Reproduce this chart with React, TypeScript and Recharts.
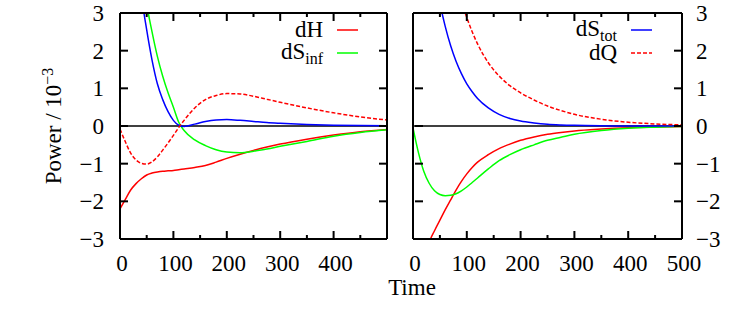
import React from 'react';
import { LineChart, Line, XAxis, YAxis, ReferenceLine, Legend } from 'recharts';

// sample times (same grid for both panels)
const time = [0, 10, 20, 30, 40, 50, 60, 70, 80, 90, 100, 110, 120, 140, 160, 180, 200, 225, 250, 275, 300, 350, 400, 450, 500];

// left panel
const leftDH = [-2.2, -1.95, -1.7, -1.53, -1.4, -1.3, -1.25, -1.22, -1.2, -1.19, -1.18, -1.16, -1.14, -1.1, -1.05, -0.96, -0.86, -0.75, -0.65, -0.56, -0.48, -0.35, -0.24, -0.15, -0.09];
const leftDSinf = [null, null, null, null, 4.4, 3.25, 2.5, 1.85, 1.32, 0.88, 0.5, 0.1, -0.12, -0.37, -0.52, -0.63, -0.69, -0.71, -0.67, -0.61, -0.54, -0.41, -0.27, -0.17, -0.1];
const leftDStot = [null, null, null, 5.0, 3.5, 2.55, 1.75, 1.12, 0.7, 0.38, 0.15, 0.02, -0.01, 0.05, 0.12, 0.16, 0.17, 0.15, 0.12, 0.09, 0.07, 0.04, 0.02, 0.01, 0.005];
const leftDQ = [-0.08, -0.42, -0.72, -0.9, -0.99, -1.01, -0.95, -0.82, -0.64, -0.45, -0.25, -0.04, 0.15, 0.48, 0.7, 0.81, 0.86, 0.85, 0.79, 0.71, 0.63, 0.48, 0.35, 0.24, 0.16];

// right panel
const rightDH = [null, null, -3.7, -3.1, -2.78, -2.5, -2.22, -1.96, -1.7, -1.47, -1.27, -1.1, -0.96, -0.76, -0.6, -0.48, -0.38, -0.29, -0.22, -0.17, -0.13, -0.08, -0.045, -0.025, -0.015];
const rightDSinf = [-0.05, -0.7, -1.2, -1.52, -1.72, -1.82, -1.85, -1.84, -1.8, -1.72, -1.62, -1.5, -1.38, -1.14, -0.92, -0.76, -0.63, -0.5, -0.38, -0.3, -0.22, -0.12, -0.06, -0.03, -0.01];
const rightDStot = [null, null, null, null, 4.04, 3.26, 2.64, 2.13, 1.72, 1.39, 1.12, 0.91, 0.73, 0.48, 0.31, 0.2, 0.13, 0.08, 0.046, 0.028, 0.017, 0.006, 0.002, 0.001, 0];
const rightDQ = [null, null, null, null, null, null, null, null, 3.75, 3.3, 2.88, 2.5, 2.18, 1.68, 1.33, 1.07, 0.88, 0.69, 0.53, 0.41, 0.31, 0.18, 0.1, 0.055, 0.03];

const xTicks = [0, 50, 100, 150, 200, 250, 300, 350, 400, 450, 500];
const leftXLabels = [0, 100, 200, 300, 400];
const rightXLabels = [0, 100, 200, 300, 400, 500];
const yTicks = [-3, -2, -1, 0, 1, 2, 3];

const FONT = '"Liberation Serif", "Times New Roman", serif';
const FS = 23;
// plot box size, used to mirror the tick marks onto the opposite frame edge
const PLOT_H = 226;
const PLOT_W = 267;

type Series = { key: string; name: string; sub?: string; color: string; dash?: string };

const dH: Series = { key: 'dH', name: 'dH', color: '#ff0000' };
const dSinf: Series = { key: 'dSinf', name: 'dS', sub: 'inf', color: '#00ff00' };
const dStot: Series = { key: 'dStot', name: 'dS', sub: 'tot', color: '#0000ff' };
const dQ: Series = { key: 'dQ', name: 'dQ', color: '#ff0000', dash: '4 2' };

const seriesOrder = [dH, dSinf, dStot, dQ];

const buildRows = (cols: Record<string, (number | null)[]>) =>
    time.map((t, i) => {
        const row: Record<string, number | null> = { t };
        Object.keys(cols).forEach((k) => (row[k] = cols[k][i]));
        return row;
    });

const leftData = buildRows({ dH: leftDH, dSinf: leftDSinf, dStot: leftDStot, dQ: leftDQ });
const rightData = buildRows({ dH: rightDH, dSinf: rightDSinf, dStot: rightDStot, dQ: rightDQ });

const fmt = (v: number) => (v < 0 ? `\u2212${-v}` : `${v}`);

// bottom axis tick: label plus inward marks on the bottom and top frame edges
const xTick = (labels: number[]) => (props: any) => {
    const x = Number(props.x);
    const y = Number(props.y);
    const v = props.payload.value;
    const len = v % 100 === 0 ? 8 : 4;
    return (
        <g>
            <rect x={x - 1} y={y - len} width={2} height={len} fill="#000" />
            <rect x={x - 1} y={y - PLOT_H} width={2} height={len} fill="#000" />
            {labels.includes(v) && (
                <text x={x + 2} y={y + 24} dy="0.35em" textAnchor="middle" fontFamily={FONT} fontSize={FS} fill="#000">
                    {v}
                </text>
            )}
        </g>
    );
};

// value axis tick: label plus inward marks on both side edges
const yTick = (side: 'left' | 'right') => (props: any) => {
    const x = Number(props.x);
    const y = Number(props.y);
    const v = props.payload.value as number;
    const inner = side === 'left' ? x : x - PLOT_W;
    const outer = side === 'left' ? x + PLOT_W : x;
    return (
        <g>
            <rect x={inner} y={y - 1} width={8} height={2} fill="#000" />
            <rect x={outer - 8} y={y - 1} width={8} height={2} fill="#000" />
            <text
                x={side === 'left' ? x - 16 : x + 14}
                y={y}
                dy="0.35em"
                textAnchor={side === 'left' ? 'end' : 'start'}
                fontFamily={FONT}
                fontSize={FS}
                fill="#000"
            >
                {fmt(v)}
            </text>
        </g>
    );
};

const noLabel = () => <g />;

const legendContent = (items: Series[]) => () => (
    <div style={{ fontFamily: FONT, fontSize: FS, color: '#000' }}>
        {items.map((s) => (
            <div key={s.key} style={{ display: 'flex', alignItems: 'center', justifyContent: 'flex-end', height: 23 }}>
                <span style={{ whiteSpace: 'nowrap', lineHeight: '23px' }}>
                    {s.name}
                    {s.sub && <span style={{ fontSize: 16, position: 'relative', top: 5 }}>{s.sub}</span>}
                </span>
                <svg width={35} height={6} style={{ display: 'block' }}>
                    <line x1={14} x2={35} y1={3} y2={3} stroke={s.color} strokeWidth={1.5} strokeDasharray={s.dash} />
                </svg>
            </div>
        ))}
    </div>
);

const frame = { stroke: '#000', strokeWidth: 2 };

const renderLines = () =>
    seriesOrder.map((s) => (
        <Line
            key={s.key}
            xAxisId="b"
            yAxisId="main"
            type="monotone"
            dataKey={s.key}
            stroke={s.color}
            strokeWidth={1.5}
            strokeDasharray={s.dash}
            dot={false}
            activeDot={false}
            isAnimationActive={false}
        />
    ));

const Panel = ({ side, data }: { side: 'left' | 'right'; data: Record<string, number | null>[] }) => {
    const isLeft = side === 'left';
    return (
        <LineChart
            width={isLeft ? 400 : 388}
            height={319}
            data={data}
            margin={isLeft ? { top: 12, right: 12, bottom: 0, left: 0 } : { top: 12, right: 0, bottom: 0, left: 52 }}
        >
            <XAxis
                xAxisId="b"
                dataKey="t"
                type="number"
                domain={[0, 500]}
                ticks={xTicks}
                interval={0}
                height={80}
                tickSize={0}
                tickMargin={0}
                tickLine={false}
                axisLine={frame}
                tick={xTick(isLeft ? leftXLabels : rightXLabels)}
                label={
                    isLeft
                        ? undefined
                        : {
                              value: 'Time',
                              content: (p: any) => (
                                  <text
                                      x={p.viewBox.x - 1}
                                      y={p.viewBox.y + 48}
                                      dy="0.35em"
                                      textAnchor="middle"
                                      fontFamily={FONT}
                                      fontSize={FS}
                                      fill="#000"
                                  >
                                      Time
                                  </text>
                              ),
                          }
                }
            />
            <XAxis
                xAxisId="t"
                orientation="top"
                dataKey="t"
                type="number"
                domain={[0, 500]}
                ticks={[0, 500]}
                height={1}
                tickSize={0}
                tickLine={false}
                axisLine={frame}
                tick={noLabel}
            />
            <YAxis
                yAxisId="main"
                orientation={side}
                type="number"
                domain={[-3, 3]}
                allowDataOverflow
                ticks={yTicks}
                interval={0}
                width={isLeft ? 120 : 66}
                tickSize={0}
                tickMargin={0}
                tickLine={false}
                axisLine={frame}
                tick={yTick(side)}
                label={
                    isLeft
                        ? {
                              value: 'Power',
                              content: () => (
                                  <text
                                      x={53}
                                      y={126}
                                      transform="rotate(-90 53 126)"
                                      dy="0.35em"
                                      textAnchor="middle"
                                      fontFamily={FONT}
                                      fontSize={FS}
                                      fill="#000"
                                  >
                                      Power / 10
                                      <tspan dy={-8} fontSize={16}>
                                          {'\u22123'}
                                      </tspan>
                                  </text>
                              ),
                          }
                        : undefined
                }
            />
            <YAxis
                yAxisId="frame"
                orientation={isLeft ? 'right' : 'left'}
                type="number"
                domain={[-3, 3]}
                ticks={[-3, 3]}
                width={1}
                tickSize={0}
                tickLine={false}
                axisLine={frame}
                tick={noLabel}
            />
            <ReferenceLine xAxisId="b" yAxisId="main" y={0} stroke="#000" strokeWidth={1.5} />
            {renderLines()}
            <Legend
                layout="vertical"
                align="center"
                verticalAlign="middle"
                wrapperStyle={isLeft ? { left: 200, top: 18, width: 158 } : { left: 132, top: 18, width: 160 }}
                content={legendContent(isLeft ? [dH, dSinf] : [dStot, dQ])}
            />
        </LineChart>
    );
};

export default function App() {
    return (
        <div style={{ position: 'absolute', left: 0, top: 0, width: 747, height: 319, background: '#fff' }}>
            <div style={{ position: 'absolute', left: 0, top: 0 }}>
                <Panel side="left" data={leftData} />
            </div>
            <div style={{ position: 'absolute', left: 360, top: 0 }}>
                <Panel side="right" data={rightData} />
            </div>
        </div>
    );
}
